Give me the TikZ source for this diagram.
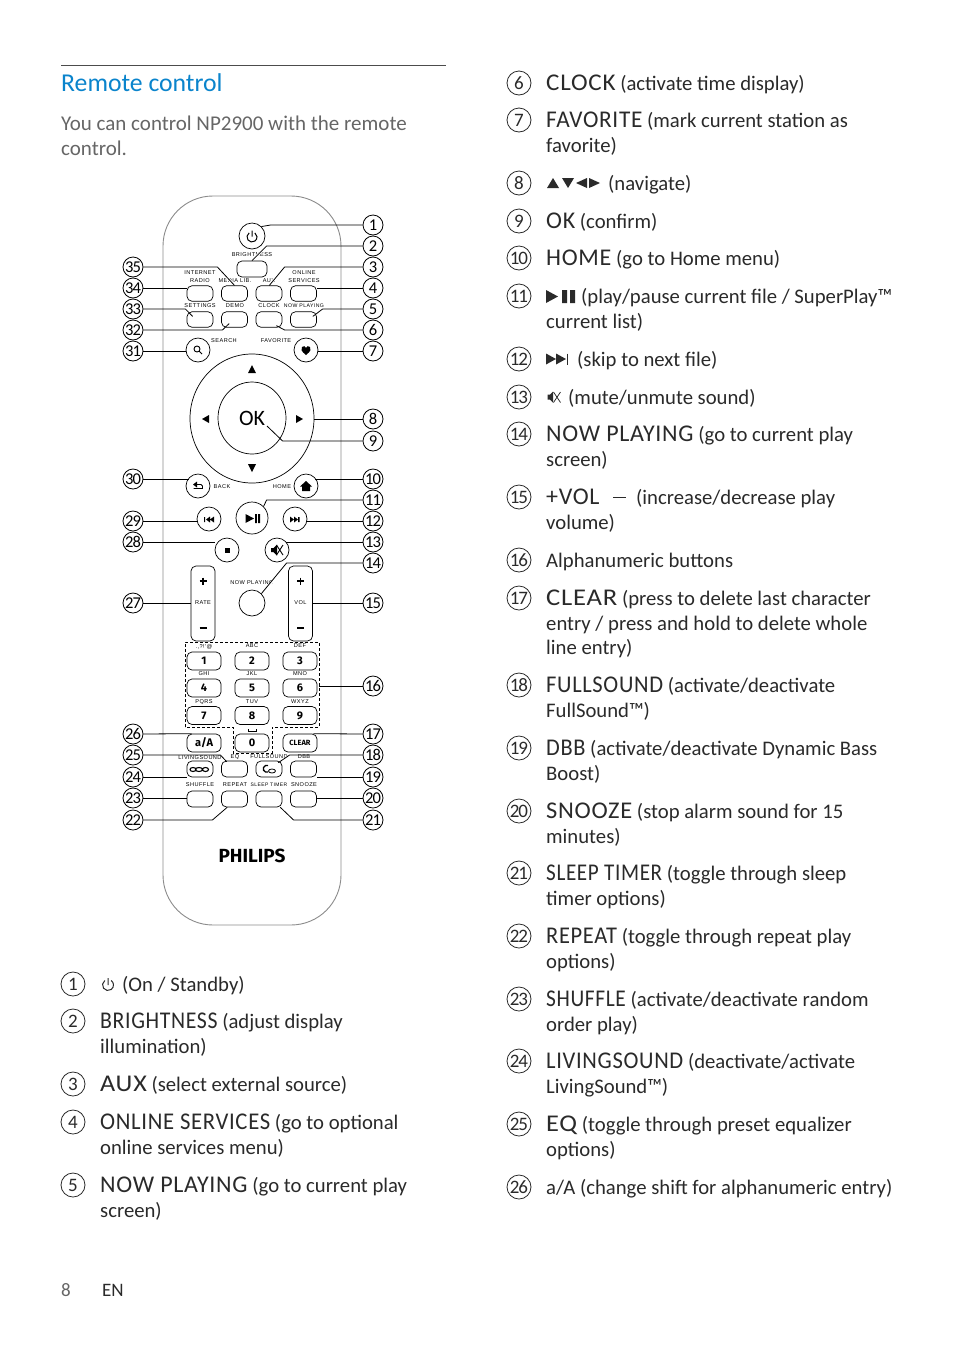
\documentclass[tikz,border=0pt]{standalone}
\usepackage{fontspec}
\usepackage{graphicx}
\usetikzlibrary{shapes.geometric}
\setmainfont{Carlito}
\newfontfamily\tinyf[LetterSpace=8]{Liberation Sans}
\newfontfamily\numf[LetterSpace=-6]{Carlito}
\newfontfamily\philf{Fira Sans}
\newfontfamily\capf[LetterSpace=3]{Carlito}
\newcommand\kn{\philf\bfseries\fontsize{11}{11}\selectfont}
\newcommand\Cp[2][1]{\scalebox{#1}[1]{\capf\fontsize{24}{24}\selectfont #2}}
\definecolor{ink}{HTML}{2A2A2A}
\definecolor{bodyc}{HTML}{8C8C8C}
\definecolor{blu}{HTML}{0A84CC}
\definecolor{subt}{HTML}{666666}
\newcount\txc
\pgfdeclarelayer{lab}\pgfdeclarelayer{halo}\pgfsetlayers{lab,halo,main}
\tikzset{
 rn/.style={draw=black,circle,line width=.8pt,inner sep=0pt,minimum size=20pt,font=\numf\fontsize{16.5}{16.5}\selectfont},
 cn/.style={draw=ink,circle,line width=.8pt,inner sep=0pt,minimum size=24pt,text=ink,font=\numf\fontsize{19}{19}\selectfont},
 btn/.style={draw=black,rounded corners=5pt,line width=.7pt,inner sep=0pt,fill=white},
 rbtn/.style={draw=black,circle,line width=.7pt,inner sep=0pt,fill=white},
 lead/.style={draw=black,line width=.8pt},
 hal/.style={draw=white,line width=2.6pt},
 txt/.style={anchor=base west,inner sep=0pt,text=ink,font=\fontsize{20.7}{22}\selectfont},
 lb/.style={inner sep=0pt,font=\tinyf\fontsize{5.6}{5.6}\selectfont,text=black},
 ic/.style={fill=black,draw=none},
}
\newcommand\numR[2]{\node[rn] (r#1) at (373,#2) {#1};}
\newcommand\numL[2]{\node[rn] (r#1) at (133,#2) {#1};}
\newcommand\tx[3]{\global\advance\txc by 1 \node[txt,name=t\the\txc] at (#1,#2) {#3};}
\newcommand\lbl[3]{\global\advance\txc by 1 \begin{pgfonlayer}{lab}\node[lb,name=t\the\txc] at (#1,#2) {#3};\end{pgfonlayer}}
\newcommand\rb[6]{\node[btn,minimum width=#4pt,minimum height=#5pt,name=#1] at (#2,#3) {#6};}
\newcommand\cb[4]{\node[rbtn,minimum size=#4pt,name=#1] at (#2,#3) {};}
\begin{document}
\begin{tikzpicture}[x=1pt,y=-1pt]
\useasboundingbox (0,0) rectangle (954,1350);
\begin{pgfonlayer}{lab}\fill[white] (0,0) rectangle (954,1350);\end{pgfonlayer}
% header
\draw[line width=.6pt,draw=black!70] (61,65.5) -- (446,65.5);
\node[txt,text=blu,font=\fontsize{25.7}{27}\selectfont,name=title] at (61,91) {Remote control};
\node[txt,text=subt,font=\fontsize{21}{22}\selectfont,name=sub1] at (61,130) {You can control NP2900 with the remote};
\node[txt,text=subt,font=\fontsize{21}{22}\selectfont,name=sub2] at (61,155) {control.};
\node[txt,text=subt,font=\fontsize{19}{19}\selectfont,name=foot1] at (61,1296) {8};
\node[txt,font=\fontsize{19}{19}\selectfont,name=foot2] at (102,1296) {EN};
% body
\draw[line width=.9pt,draw=bodyc,rounded corners=50pt] (163,560) -- (163,196) -- (341,196) -- (341,925) -- (163,925) -- cycle;
% dashed keypad frame
\draw[dashed,line width=.7pt,dash pattern=on 3pt off 2pt] (185,727) -- (185,642) -- (319,642) -- (319,727) -- (272,727) -- (272,753) -- (233,753) -- (233,727) -- cycle;
\coordinate (kf) at (319,686);
% buttons
\cb{pw}{252}{236}{26}
\rb{br}{252}{269}{30}{16}{}
\foreach \n/\x in {a/200,b/234.5,c/269,d/303.5}{
 \rb{ra\n}{\x}{293.5}{26}{15.5}{}
 \rb{rb\n}{\x}{319.5}{26}{15.5}{}
 \rb{rc\n}{\x}{769}{26}{16}{}
 \rb{rd\n}{\x}{799}{26}{16}{}
}
\cb{sr}{198}{350}{24}
\cb{fv}{306}{350}{24}
\node[draw=black,line width=.7pt,ellipse,minimum width=124pt,minimum height=129pt,inner sep=0pt,name=pad] at (252,418.5) {};
\node[draw=black,line width=.7pt,ellipse,minimum width=68pt,minimum height=72pt,inner sep=0pt,font=\fontsize{22}{22}\selectfont,name=ok] at (252,418) {OK};
\cb{bk}{198}{486}{24}
\cb{hm}{306}{486}{24}
\cb{pl}{252}{518}{32}
\cb{pv}{209}{519}{24}
\cb{nx}{295}{519}{24}
\cb{st}{227}{550}{24}
\cb{mu}{277}{550}{24}
\rb{rate}{203}{603.5}{24}{75}{}
\rb{vol}{300.5}{603.5}{24}{75}{}
\cb{np}{252}{603}{26}
\foreach \t/\x/\y in {1/204/661,2/252/661,3/300/661,4/204/688,5/252/688,6/300/688,7/204/715.5,8/252/715.5,9/300/715.5,0/252/743}{
 \rb{k\t}{\x}{\y}{34}{18}{\kn\t}
}
\rb{kA}{204}{743}{34}{18}{\kn a/A}
\rb{kC}{300}{743}{34}{18}{\kn\fontsize{7.5}{7.5}\selectfont CLEAR}
% small labels
\lbl{252}{255}{BRIGHTNESS}
\lbl{200}{273}{INTERNET}\lbl{200}{281}{RADIO}\lbl{235}{281}{MEDIA LIB.}\lbl{269}{281}{AUX}
\lbl{304}{273}{ONLINE}\lbl{304}{281}{SERVICES}
\lbl{200}{306}{SETTINGS}\lbl{235}{306}{DEMO}\lbl{269}{306}{CLOCK}\lbl{304}{306}{\fontsize{5.2}{5.2}\selectfont NOW PLAYING}
\lbl{224}{341}{SEARCH}\lbl{276}{341}{FAVORITE}
\lbl{222}{487}{BACK}\lbl{282}{487}{HOME}
\lbl{252}{583}{NOW PLAYING}
\lbl{204}{647}{.,?!'@}\lbl{252}{646}{ABC}\lbl{300}{646}{DEF}
\lbl{204}{674}{GHI}\lbl{252}{674}{JKL}\lbl{300}{674}{MNO}
\lbl{204}{702}{PQRS}\lbl{252}{702}{TUV}\lbl{300}{702}{WXYZ}
\lbl{200}{758}{LIVINGSOUND}\lbl{235}{757}{EQ}\lbl{269}{757}{FULLSOUND}\lbl{304}{757}{DBB}
\lbl{200}{785}{SHUFFLE}\lbl{235}{785}{REPEAT}\lbl{269}{785}{\fontsize{5}{5}\selectfont SLEEP TIMER}\lbl{304}{785}{SNOOZE}
\node[lb,fill=white,inner sep=1pt,name=ratelb] at (203,603) {RATE};
\node[lb,fill=white,inner sep=1pt,name=vollb] at (300.5,603) {VOL};
\node[inner sep=0pt,font=\philf\bfseries\fontsize{19}{19}\selectfont,name=phil] at (252,856) {PHILIPS};
% icons
\draw[line width=1pt] (252,230.5) -- (252,236.5) (249.13,232.9) arc[start angle=235,end angle=-55,radius=5];
\draw[line width=.9pt] (197,349) circle[radius=3] (199.2,351.2) -- (202,354);
\fill (306,355) .. controls (301,351) and (300.5,349) .. (302,347) .. controls (303.5,345.5) and (305.3,346) .. (306,348) .. controls (306.7,346) and (308.5,345.5) .. (310,347) .. controls (311.5,349) and (311,351) .. (306,355) -- cycle;
\fill[ic] (252,365) -- (256,373) -- (248,373) -- cycle;
\fill[ic] (252,472) -- (256,464) -- (248,464) -- cycle;
\fill[ic] (202,419) -- (209,415) -- (209,423) -- cycle;
\fill[ic] (303,419) -- (296,415) -- (296,423) -- cycle;
\fill[ic] (193,484.5) -- (197,481.5) -- (197,487.5) -- cycle;
\draw[line width=.9pt] (196,484.5) -- (201,484.5) -- (202.5,486) -- (202.5,488.5) -- (193.5,488.5);
\fill[ic] (306,481) -- (312,486.5) -- (310,486.5) -- (310,491) -- (302,491) -- (302,486.5) -- (300,486.5) -- cycle;
\fill[ic] (245.5,514) -- (254,518.5) -- (245.5,523) -- cycle (255,514) rectangle (256.8,523) (258.2,514) rectangle (260,523);
\fill[ic] (204,517) rectangle (205.2,522) (210,516.5) -- (206,519.5) -- (210,522.5) -- cycle (214,516.5) -- (210,519.5) -- (214,522.5) -- cycle;
\fill[ic] (290,516.5) -- (294,519.5) -- (290,522.5) -- cycle (294,516.5) -- (298,519.5) -- (294,522.5) -- cycle (298,517) rectangle (299.5,522);
\fill[ic] (224.5,547.5) rectangle (230,553);
\fill[ic] (271,548) -- (273.5,548) -- (277,544.5) -- (277,555.5) -- (273.5,552) -- (271,552) -- cycle;
\draw[line width=.9pt] (276.5,545) -- (283,555) (283,545) -- (276.5,555);
\foreach \x in {203,300.5}{
 \draw[line width=1.2pt] (\x-3.5,581) -- (\x+3.5,581) (\x,577.5) -- (\x,584.5) (\x-3.5,628) -- (\x+3.5,628);
}
\draw[line width=.6pt] (248,729) -- (248,731) -- (256,731) -- (256,729);
\draw[line width=1.1pt] (193,769.5) ellipse[x radius=3,y radius=2] (199,769.5) ellipse[x radius=3.5,y radius=2] (205.5,769.5) ellipse[x radius=3,y radius=2];
\draw[line width=1.3pt] (268,765.5) arc[start angle=290,end angle=70,radius=3.5];
\draw[line width=.8pt] (272,771) ellipse[x radius=3.5,y radius=2];
% numbers
\numR{1}{225}\numR{2}{246}\numR{3}{267}\numR{4}{288}\numR{5}{309}\numR{6}{330}\numR{7}{351}
\numR{8}{419}\numR{9}{441}\numR{10}{479}\numR{11}{500}\numR{12}{521}\numR{13}{542}\numR{14}{563}
\numR{15}{603}\numR{16}{686}\numR{17}{734}\numR{18}{755}\numR{19}{777}\numR{20}{798}\numR{21}{820}
\numL{35}{267}\numL{34}{288}\numL{33}{309}\numL{32}{330}\numL{31}{351}\numL{30}{479}\numL{29}{521}
\numL{28}{542}\numL{27}{603}\numL{26}{734}\numL{25}{755}\numL{24}{777}\numL{23}{798}\numL{22}{820}
% halos for leaders that cross the small labels
\begin{pgfonlayer}{halo}
\draw[hal] (br.north) -- ++(13,-13);
\draw[hal] ([xshift=-13pt]rac.north east) -- ++(16,-20);
\draw[hal] (rab.north) -- ++(-18,-19);
\draw[hal] (np.45) -- ++(27,-29);
\draw[hal] ([xshift=-4pt,yshift=-2pt]rcc.north east) -- ++(12,-7);
\end{pgfonlayer}
% leaders right
\draw[lead] (r1.west) -- ++(-92,0) -- (pw.north east);
\draw[lead] (r2.west) -- ++(-96,0) -- (br.north);
\draw[lead] (r3.west) -- ++(-78,0) -- ([xshift=-13pt]rac.north east);
\draw[lead] (r4.west) -- (rad.east |- r4.west);
\draw[lead] (r5.west) -- ++(-40,0) -- ([xshift=-4pt,yshift=-5pt]rbd.north east);
\draw[lead] (r6.west) -- ++(-78,0) -- ([xshift=-6pt,yshift=2pt]rbc.south east);
\draw[lead] (r7.west) -- (fv.east |- r7.west);
\draw[lead] (r8.west) -- (pad.east |- r8.west);
\draw[lead] (r9.west) -- ++(-80,0) -- ([xshift=15pt,yshift=-8pt]ok.center);
\draw[lead] (r10.west) -- (hm.north east |- r10.west);
\draw[lead] (r11.west) -- ++(-96,0) -- (pl.north east);
\draw[lead] (r12.west) -- (nx.east |- r12.west);
\draw[lead] (r13.west) -- (mu.north east |- r13.west);
\draw[lead] (r14.west) -- ++(-76,0) -- (np.45);
\draw[lead] (r15.west) -- (vol.east |- r15.west);
\draw[lead] (r16.west) -- (kf);
\draw[lead] (r17.west) -- ([xshift=-4pt]kC.north east);
\draw[lead] (r18.west) -- ++(-73,0) -- ([xshift=-4pt,yshift=-2pt]rcc.north east);
\draw[lead] (r19.west) -- (rcd.east |- r19.west);
\draw[lead] (r20.west) -- (rdd.east |- r20.west);
\draw[lead] (r21.west) -- ++(-69,0) -- ([xshift=-2pt]rdc.south east);
% leaders left
\draw[lead] (r35.east) -- ++(74,0) -- (rab.north);
\draw[lead] (r34.east) -- (raa.west |- r34.east);
\draw[lead] (r33.east) -- ++(42,0) -- ([xshift=6pt,yshift=-5pt]rba.north west);
\draw[lead] (r32.east) -- ++(79,0) -- ([xshift=8pt,yshift=4pt]rbb.south west);
\draw[lead] (r31.east) -- (sr.west |- r31.east);
\draw[lead] (r30.east) -- (bk.north west |- r30.east);
\draw[lead] (r29.east) -- (pv.west |- r29.east);
\draw[lead] (r28.east) -- (st.west |- r28.east);
\draw[lead] (r27.east) -- (rate.west |- r27.east);
\draw[lead] (r26.east) -- ([xshift=5pt]kA.north west);
\draw[lead] (r25.east) -- ++(77,0) -- ([xshift=5.5pt,yshift=-1pt]rcb.north west);
\draw[lead] (r24.east) -- (rca.west |- r24.east);
\draw[lead] (r23.east) -- (rda.west |- r23.east);
\draw[lead] (r22.east) -- ++(69,0) -- ([xshift=6pt]rdb.south west);
% legend left
\foreach \n/\y in {1/984,2/1021,3/1084,4/1122,5/1185}{\node[cn,name=c\n] at (73,\y) {\n};}
\draw[line width=1pt,draw=ink] (108,978) -- (108,985) (104.85,980.5) arc[start angle=235,end angle=-55,radius=5.5];
\tx{122}{991}{(On / Standby)}
\tx{100}{1028}{\Cp[.907]{BRIGHTNESS} (adjust display}
\tx{100}{1053}{illumination)}
\tx{100}{1091}{\Cp[1.09]{AUX} (select external source)}
\tx{100}{1129}{\Cp[.945]{ONLINE SERVICES} (go to optional}
\tx{100}{1154}{online services menu)}
\tx{100}{1192}{\Cp{NOW PLAYING} (go to current play}
\tx{100}{1217}{screen)}
% legend right
\foreach \n/\y in {6/83,7/120,8/183,9/221,10/258,11/296,12/359,13/397,14/434,15/497,16/560,17/598,18/685,19/748,20/811,21/873,22/936,23/999,24/1061,25/1124,26/1187}{\node[cn,name=c\n] at (519,\y) {\n};}
\tx{546}{90}{\Cp[1.045]{CLOCK} (activate time display)}
\tx{546}{127}{\Cp[.97]{FAVORITE} (mark current station as}
\tx{546}{152}{favorite)}
\fill[ink] (547,188) -- (553,178) -- (559,188) -- cycle (562,178) -- (574,178) -- (568,188) -- cycle (587,178) -- (587,188) -- (576,183) -- cycle (589,178) -- (589,188) -- (600,183) -- cycle;
\tx{608}{190}{(navigate)}
\tx{546}{228}{\Cp{OK} (confirm)}
\tx{546}{265}{\Cp{HOME} (go to Home menu)}
\fill[ink] (546,290) -- (558,296.5) -- (546,303) -- cycle (562,290) rectangle (567,303) (570,290) rectangle (575,303);
\tx{581}{303}{(play/pause current file / SuperPlay™}
\tx{546}{328}{current list)}
\fill[ink] (546,353.5) -- (556,359) -- (546,364.5) -- cycle (556,353.5) -- (566,359) -- (556,364.5) -- cycle;
\draw[ink,line width=.8pt] (567.5,353.5) -- (567.5,364.5);
\tx{577}{366}{(skip to next file)}
\fill[ink] (547.5,394.5) -- (550,394.5) -- (553,391.5) -- (553,402.5) -- (550,399.5) -- (547.5,399.5) -- cycle;
\draw[ink,line width=.8pt] (553.5,392) -- (560.5,402.5) (560.5,392) -- (553.5,402.5);
\tx{568}{404}{(mute/unmute sound)}
\tx{546}{441}{\Cp{NOW PLAYING} (go to current play}
\tx{546}{466}{screen)}
\tx{546}{504}{\Cp{+VOL}}
\draw[ink,line width=.9pt] (613,497.5) -- (626,497.5);
\tx{636}{504}{(increase/decrease play}
\tx{546}{529}{volume)}
\tx{546}{567}{Alphanumeric buttons}
\tx{546}{605}{\Cp[1.11]{CLEAR} (press to delete last character}
\tx{546}{630}{entry / press and hold to delete whole}
\tx{546}{654}{line entry)}
\tx{546}{692}{\Cp[.936]{FULLSOUND} (activate/deactivate}
\tx{546}{717}{FullSound™)}
\tx{546}{755}{\Cp[.93]{DBB} (activate/deactivate Dynamic Bass}
\tx{546}{780}{Boost)}
\tx{546}{818}{\Cp[1.02]{SNOOZE} (stop alarm sound for 15}
\tx{546}{843}{minutes)}
\tx{546}{880}{\Cp[.88]{SLEEP TIMER} (toggle through sleep}
\tx{546}{905}{timer options)}
\tx{546}{943}{\Cp[.934]{REPEAT} (toggle through repeat play}
\tx{546}{968}{options)}
\tx{546}{1006}{\Cp[.89]{SHUFFLE} (activate/deactivate random}
\tx{546}{1031}{order play)}
\tx{546}{1068}{\Cp[.938]{LIVINGSOUND} (deactivate/activate}
\tx{546}{1093}{LivingSound™)}
\tx{546}{1131}{\Cp[1.1]{EQ} (toggle through preset equalizer}
\tx{546}{1156}{options)}
\tx{546}{1194}{a/A (change shift for alphanumeric entry)}
\end{tikzpicture}
\end{document}
